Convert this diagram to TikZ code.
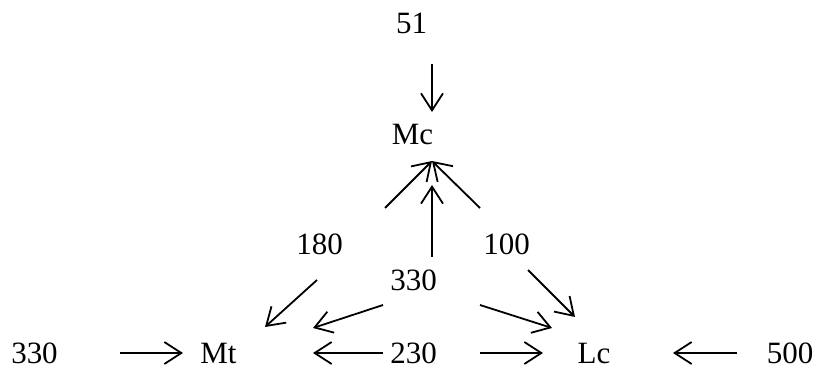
\documentclass[tikz,border=0pt]{standalone}
\usepackage{fontspec}
\setmainfont{Liberation Serif}
\usetikzlibrary{arrows.meta}
\begin{document}
\begin{tikzpicture}[x=1pt,y=-1pt,
  lbl/.style={inner sep=0pt,font=\fontsize{31}{31}\selectfont},
  flow/.style={line width=1.8pt,-{Straight Barb[length=17pt,width=22pt,line width=1.8pt]}}]
\useasboundingbox (0,0) rectangle (814,367);
% labels
\node[lbl] (in51)  at (411.5,23.5) {51};
\node[lbl] (Mc)    at (412.5,134)  {Mc};
\node[lbl] (f180)  at (319.5,244)  {180};
\node[lbl] (f100)  at (506.5,244)  {100};
\node[lbl] (f330)  at (413.5,280)  {330};
\node[lbl] (in330) at (34.5,353.5) {330};
\node[lbl] (Mt)    at (218.5,353.5){Mt};
\node[lbl] (f230)  at (413.5,353.5){230};
\node[lbl] (Lc)    at (594,353.5)  {Lc};
\node[lbl] (in500) at (790,353.5)  {500};
% flows
\draw[flow] ([shift={(20.5,40.5)}]in51.center) -- ([shift={(19.5,-22)}]Mc.center);
\draw[flow] ([shift={(85.5,-0.5)}]in330.center) -- ([shift={(-35.5,-0.5)}]Mt.center);
\draw[flow] ([shift={(-53,-0.5)}]in500.center) -- ([shift={(79,-0.5)}]Lc.center);
\draw[flow] ([shift={(-30.5,-0.5)}]f230.center) -- ([shift={(94.5,-0.5)}]Mt.center);
\draw[flow] ([shift={(66.5,-0.5)}]f230.center) -- ([shift={(-51,-0.5)}]Lc.center);
\draw[flow] ([shift={(-30.5,25)}]f330.center) -- ([shift={(94.5,-25.5)}]Mt.center);
\draw[flow] ([shift={(66.5,25)}]f330.center) -- ([shift={(-42,-25.5)}]Lc.center);
\draw[flow] ([shift={(18.5,-23)}]f330.center) -- ([shift={(19.5,51)}]Mc.center);
\draw[flow] ([shift={(65.5,-36)}]f180.center) -- ([shift={(19.5,27)}]Mc.center);
\draw[flow] ([shift={(-26.5,-36)}]f100.center) -- ([shift={(19.5,27)}]Mc.center);
\draw[flow] ([shift={(-2.5,36)}]f180.center) -- ([shift={(46.5,-26.5)}]Mt.center);
\draw[flow] ([shift={(21.5,26)}]f100.center) -- ([shift={(-19,-36.5)}]Lc.center);
\end{tikzpicture}
\end{document}
